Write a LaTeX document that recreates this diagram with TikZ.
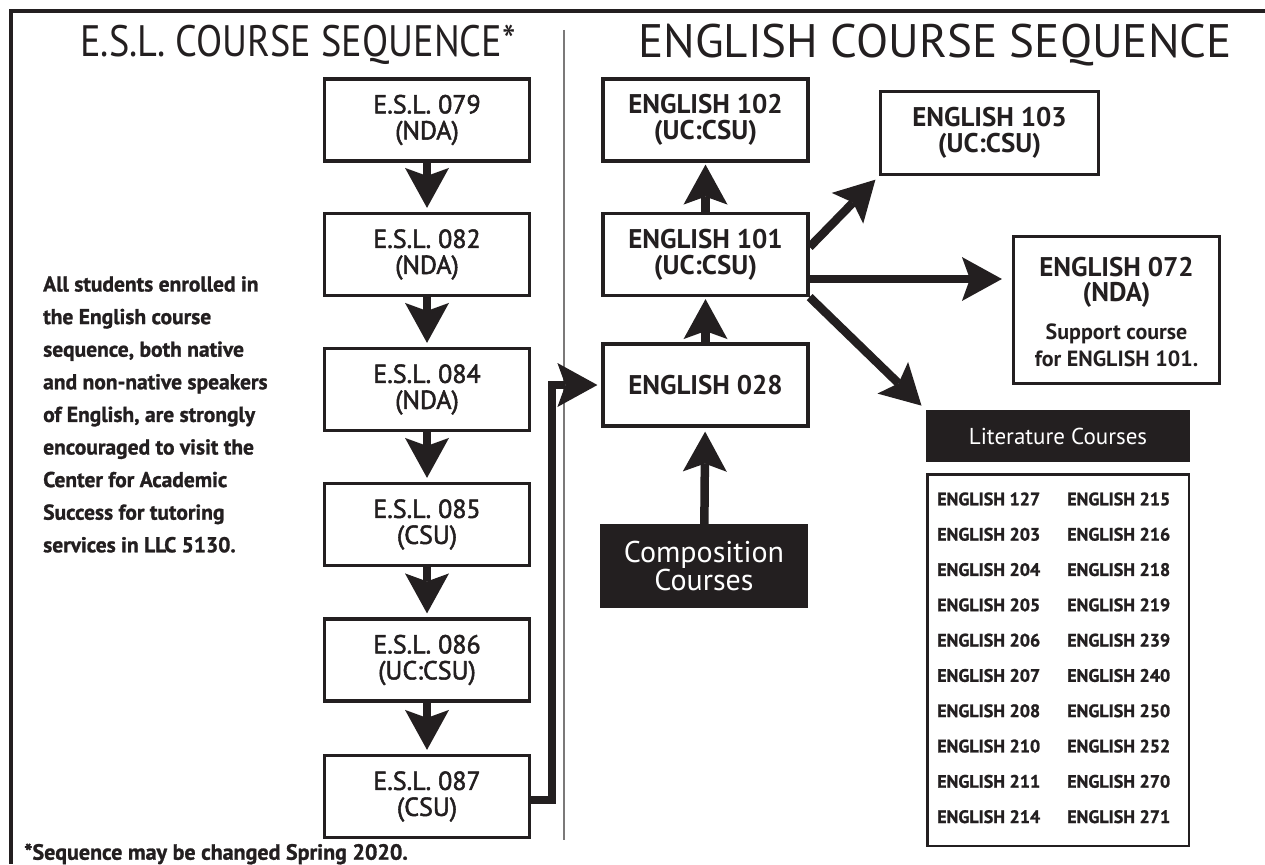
\documentclass[tikz,border=0pt]{standalone}
\usepackage{fontspec}
\setmainfont{PT Sans}
\newfontfamily\condfont[FakeStretch=0.87]{PT Sans}
\newfontfamily\medfont[FakeBold=2]{PT Sans}
\newfontfamily\heavyfont[FakeBold=1.2]{PT Sans Bold}
\usetikzlibrary{arrows.meta}
\definecolor{ink}{HTML}{231F20}
\begin{document}
\begin{tikzpicture}[x=1pt,y=-1pt,
  box/.style={draw=ink, line width=3.2pt, fill=white, inner sep=0pt,
    minimum width=205pt, minimum height=82pt, align=center, text=ink},
  eslbox/.style={box, font=\medfont\fontsize{26}{26}\selectfont},
  engbox/.style={box, font=\bfseries\fontsize{27}{26}\selectfont},
  darkbox/.style={fill=ink, draw=none, text=white, inner sep=0pt, align=center},
  hdr/.style={text=ink, inner sep=0pt},
  flow/.style={draw=ink, line width=8.5pt,
    -{Stealth[length=40pt,width=44pt,inset=8pt,line width=0pt]}},
  item/.style={text=ink, inner sep=0pt, anchor=west, font=\heavyfont\fontsize{18}{18}\selectfont},
  plain/.style={text=ink, inner sep=0pt, align=center},
  frameline/.style={draw=ink, line width=4pt},
  divider/.style={draw=ink!60, line width=2pt}
]
\useasboundingbox (0,0) rectangle (1265,864);
% frame
\coordinate (ftl) at (11,11);
\coordinate (ftr) at (1265,11);
\coordinate (fbl) at (11,864);
\draw[frameline] (ftr) -- (ftl) -- (fbl);
% divider
\coordinate (dtop) at (564,30);
\coordinate (dbot) at (564,840);
\draw[divider] (dtop) -- (dbot);
% headers
\node[hdr, font=\condfont\fontsize{44}{44}\selectfont] (h1) at (298,45) {E.S.L. COURSE SEQUENCE*};
\node[hdr, font=\fontsize{47}{47}\selectfont] (h2) at (935,45) {ENGLISH COURSE SEQUENCE};
% ESL boxes
\node[eslbox] (s079) at (427,120) {E.S.L. 079\\(NDA)};
\node[eslbox] (s082) at (427,254.5) {E.S.L. 082\\(NDA)};
\node[eslbox] (s084) at (427,389.5) {E.S.L. 084\\(NDA)};
\node[eslbox] (s085) at (427,524.5) {E.S.L. 085\\(CSU)};
\node[eslbox] (s086) at (427,660) {E.S.L. 086\\(UC:CSU)};
\node[eslbox] (s087) at (427,796.5) {E.S.L. 087\\(CSU)};
% English boxes
\node[engbox] (e102) at (705.5,120) {ENGLISH 102\\(UC:CSU)};
\node[engbox] (e101) at (705.5,254.5) {ENGLISH 101\\(UC:CSU)};
\node[engbox] (e028) at (705.5,385) {ENGLISH 028};
\node[darkbox, minimum width=208pt, minimum height=84pt,
  font=\fontsize{30}{26}\selectfont] (comp) at (704,566) {Composition\\Courses};
\node[engbox, minimum width=218pt, minimum height=83pt] (e103) at (989.5,133) {ENGLISH 103\\(UC:CSU)};
\node[box, minimum width=206pt, minimum height=147pt] (e072) at (1116.5,310) {};
\node[plain, font=\bfseries\fontsize{27}{25}\selectfont] (e072t) at (1116.5,282) {ENGLISH 072\\(NDA)};
\node[plain, font=\bfseries\fontsize{22}{27}\selectfont] (e072s) at (1116.5,345) {Support course\\for ENGLISH 101.};
\node[darkbox, minimum width=264pt, minimum height=52pt,
  font=\fontsize{23}{23}\selectfont] (litH) at (1058,436) {Literature Courses};
\node[box, line width=2.5pt, minimum width=261.5pt, minimum height=371.5pt] (litL) at (1058,660) {};
% literature list
\foreach \a/\b [count=\i from 0] in {127/215,203/216,204/218,205/219,206/239,207/240,208/250,210/252,211/270,214/271}{
  \node[item] (la\i) at (937,{499+35.3*\i}) {ENGLISH \a};
  \node[item] (lb\i) at (1067,{499+35.3*\i}) {ENGLISH \b};
}
% note text
\node[text=ink, inner sep=0pt, anchor=north west, align=left,
  font=\heavyfont\fontsize{21.5}{32.6}\selectfont] (note) at (43,276)
  {All students enrolled in\\
   the English course\\
   sequence, both native\\
   and non-native speakers\\
   of English, are strongly\\
   encouraged to visit the\\
   Center for Academic\\
   Success for tutoring\\
   services in LLC 5130.};
\node[text=ink, inner sep=0pt, anchor=west,
  font=\heavyfont\fontsize{22}{22}\selectfont] (foot) at (24,854)
  {*Sequence may be changed Spring 2020.};
% ESL arrows
\draw[flow, shorten >=4pt] (s079) -- (s082);
\draw[flow, shorten >=4pt] (s082) -- (s084);
\draw[flow, shorten >=4pt] (s084) -- (s085);
\draw[flow, shorten >=4pt] (s085) -- (s086);
\draw[flow, shorten >=4pt] (s086) -- (s087);
% ESL 087 to English 028
\coordinate (o87) at ([yshift=-3.5pt]s087.east);
\draw[flow, shorten >=4pt] (o87) -- ++(21,0) |- (e028.west);
% English arrows
\draw[flow, shorten >=4pt] (comp) -- (e028);
\draw[flow, shorten >=2pt] (e028) -- (e101);
\draw[flow, shorten >=2pt] (e101) -- (e102);
\coordinate (o103) at ([yshift=7.5pt]e101.east);
\draw[flow, shorten >=5pt] (o103) -- (e103.south west);
\coordinate (o72) at ([yshift=-24.5pt]e101.east);
\draw[flow, shorten >=10pt] (o72) -- (o72 -| e072.west);
\draw[flow, shorten >=6pt] (e101.south east) -- (litH.north west);
\end{tikzpicture}
\end{document}
